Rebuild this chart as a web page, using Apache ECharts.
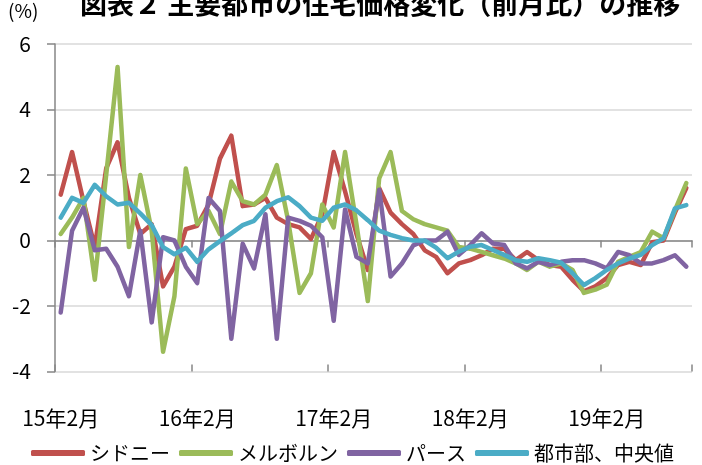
<!DOCTYPE html>
<html>
<head>
<meta charset="utf-8">
<title>住宅価格変化</title>
<script src="https://cdn.jsdelivr.net/npm/echarts@6/dist/echarts.min.js"></script>
<style>
    html,body{margin:0;padding:0;background:#fff;}
    #eChart{width:702px;height:465px;}
</style>
</head>
<body>
<div id="eChart"></div>
<script>
// 月次カテゴリ（15年2月～19年9月）
var months=[
    '15年2月','15年3月','15年4月','15年5月','15年6月','15年7月','15年8月','15年9月','15年10月','15年11月','15年12月',
    '16年1月','16年2月','16年3月','16年4月','16年5月','16年6月','16年7月','16年8月','16年9月','16年10月','16年11月','16年12月',
    '17年1月','17年2月','17年3月','17年4月','17年5月','17年6月','17年7月','17年8月','17年9月','17年10月','17年11月','17年12月',
    '18年1月','18年2月','18年3月','18年4月','18年5月','18年6月','18年7月','18年8月','18年9月','18年10月','18年11月','18年12月',
    '19年1月','19年2月','19年3月','19年4月','19年5月','19年6月','19年7月','19年8月','19年9月'
];
// 前月比（%）
var sydney=[1.4,2.7,1.2,-0.2,2.2,3.0,1.3,0.2,0.5,-1.4,
    -0.8,0.35,0.45,1.1,2.5,3.2,1.05,1.1,1.3,0.7,
    0.5,0.4,0.05,0.8,2.7,1.5,0.2,-0.9,1.6,0.85,
    0.5,0.2,-0.3,-0.5,-1.0,-0.7,-0.6,-0.45,-0.25,-0.25,
    -0.6,-0.35,-0.6,-0.75,-0.8,-1.2,-1.55,-1.4,-1.15,-0.75,
    -0.65,-0.75,-0.05,0.0,0.85,1.6];
var melbourne=[0.2,0.7,1.3,-1.2,2.0,5.3,-0.2,2.0,0.3,-3.4,
    -1.7,2.2,0.5,0.9,0.2,1.8,1.2,1.1,1.4,2.3,
    0.6,-1.6,-1.0,1.1,0.4,2.7,0.5,-1.85,1.9,2.7,
    0.9,0.65,0.5,0.4,0.3,-0.2,-0.25,-0.35,-0.45,-0.55,
    -0.7,-0.9,-0.65,-0.8,-0.7,-0.9,-1.6,-1.5,-1.35,-0.65,
    -0.5,-0.35,0.27,0.07,0.93,1.75];
var perth=[-2.2,0.3,1.0,-0.3,-0.25,-0.8,-1.7,0.3,-2.5,0.1,
    0.0,-0.8,-1.3,1.3,0.9,-3.0,-0.1,-0.85,0.8,-3.0,
    0.7,0.6,0.45,0.1,-2.45,0.95,-0.5,-0.7,1.55,-1.1,
    -0.7,-0.15,0.0,0.0,0.27,-0.44,-0.14,0.22,-0.09,-0.14,
    -0.7,-0.85,-0.65,-0.75,-0.65,-0.6,-0.6,-0.7,-0.85,-0.35,
    -0.45,-0.7,-0.7,-0.6,-0.45,-0.8];
var median=[0.7,1.3,1.15,1.7,1.35,1.1,1.15,0.83,0.47,-0.2,
    -0.42,-0.22,-0.65,-0.27,-0.02,0.22,0.47,0.6,1.0,1.2,
    1.32,1.05,0.7,0.6,1.0,1.1,0.92,0.62,0.3,0.17,
    0.07,0.0,0.0,-0.22,-0.54,-0.34,-0.19,-0.14,-0.29,-0.44,
    -0.6,-0.65,-0.54,-0.6,-0.68,-1.0,-1.36,-1.15,-0.9,-0.7,
    -0.55,-0.44,-0.14,0.07,0.98,1.08];
var seriesNames=['シドニー','メルボルン','パース','都市部、中央値'];
var seriesColors=['#C0504D','#9BBB59','#8064A2','#4BACC6'];
var yTicks={min:-4,max:6,interval:2};

var chartPage={
    font:'"Noto Sans CJK JP", sans-serif',
    myChart:null,
    init:function(){
        this.myChart=echarts.init(document.getElementById('eChart'),null,{renderer:'canvas'});
        this.myChart.setOption(this.buildOption());
    },
    lineSeries:function(name,data,color){
        return {
            name:name,
            type:'line',
            data:data,
            symbol:'none',
            smooth:false,
            lineStyle:{color:color,width:4.5,join:'round',cap:'round'},
            itemStyle:{color:color}
        };
    },
    buildOption:function(){
        var font=this.font;
        var allData=[sydney,melbourne,perth,median];
        var series=[];
        for(var i=0;i<seriesNames.length;i++){
            series.push(this.lineSeries(seriesNames[i],allData[i],seriesColors[i]));
        }
        return {
            animation:false,
            backgroundColor:'#fff',
            textStyle:{fontFamily:font},
            graphic:[
                {type:'text',left:8,top:1,style:{text:'(%)',font:'19px '+font,fill:'#000'}},
                {type:'text',left:80,top:-10,style:{text:'図表２ 主要都市の住宅価格変化（前月比）の推移',font:'bold 27px '+font,fill:'#000'}}
            ],
            legend:{
                left:26,
                top:438,
                width:676,
                icon:'roundRect',
                itemWidth:54,
                itemHeight:6,
                itemGap:9,
                textStyle:{fontSize:20,color:'#000',fontFamily:font},
                data:seriesNames
            },
            grid:{left:55,right:10,top:44,bottom:93.5},
            xAxis:[
                {
                    // 目盛ラベル（下端）
                    type:'category',
                    data:months,
                    position:'bottom',
                    boundaryGap:true,
                    axisLine:{show:false,onZero:false},
                    axisTick:{show:false},
                    axisLabel:{interval:11,margin:36,fontSize:21,color:'#000',fontFamily:font},
                    splitLine:{show:false}
                },
                {
                    // ゼロ線（下向き目盛）
                    type:'category',
                    data:months,
                    position:'bottom',
                    boundaryGap:true,
                    axisLine:{show:true,onZero:true,lineStyle:{color:'#868686',width:1.5}},
                    axisTick:{show:true,interval:11,length:7,lineStyle:{color:'#868686',width:1.5}},
                    axisLabel:{show:false},
                    splitLine:{show:false}
                },
                {
                    // ゼロ線（上向き目盛）
                    type:'category',
                    data:months,
                    position:'bottom',
                    boundaryGap:true,
                    axisLine:{show:false,onZero:true},
                    axisTick:{show:true,inside:true,interval:11,length:7,lineStyle:{color:'#868686',width:1.5}},
                    axisLabel:{show:false},
                    splitLine:{show:false}
                }
            ],
            yAxis:{
                type:'value',
                min:yTicks.min,
                max:yTicks.max,
                interval:yTicks.interval,
                axisLine:{show:true,lineStyle:{color:'#868686',width:1.5}},
                axisTick:{show:true,length:8,lineStyle:{color:'#868686',width:1.5}},
                axisLabel:{margin:24,fontSize:21,color:'#000',fontFamily:font},
                splitLine:{show:true,lineStyle:{color:'#d9d9d9',width:1.5}}
            },
            series:series
        };
    }
};
chartPage.init();
</script>
</body>
</html>
